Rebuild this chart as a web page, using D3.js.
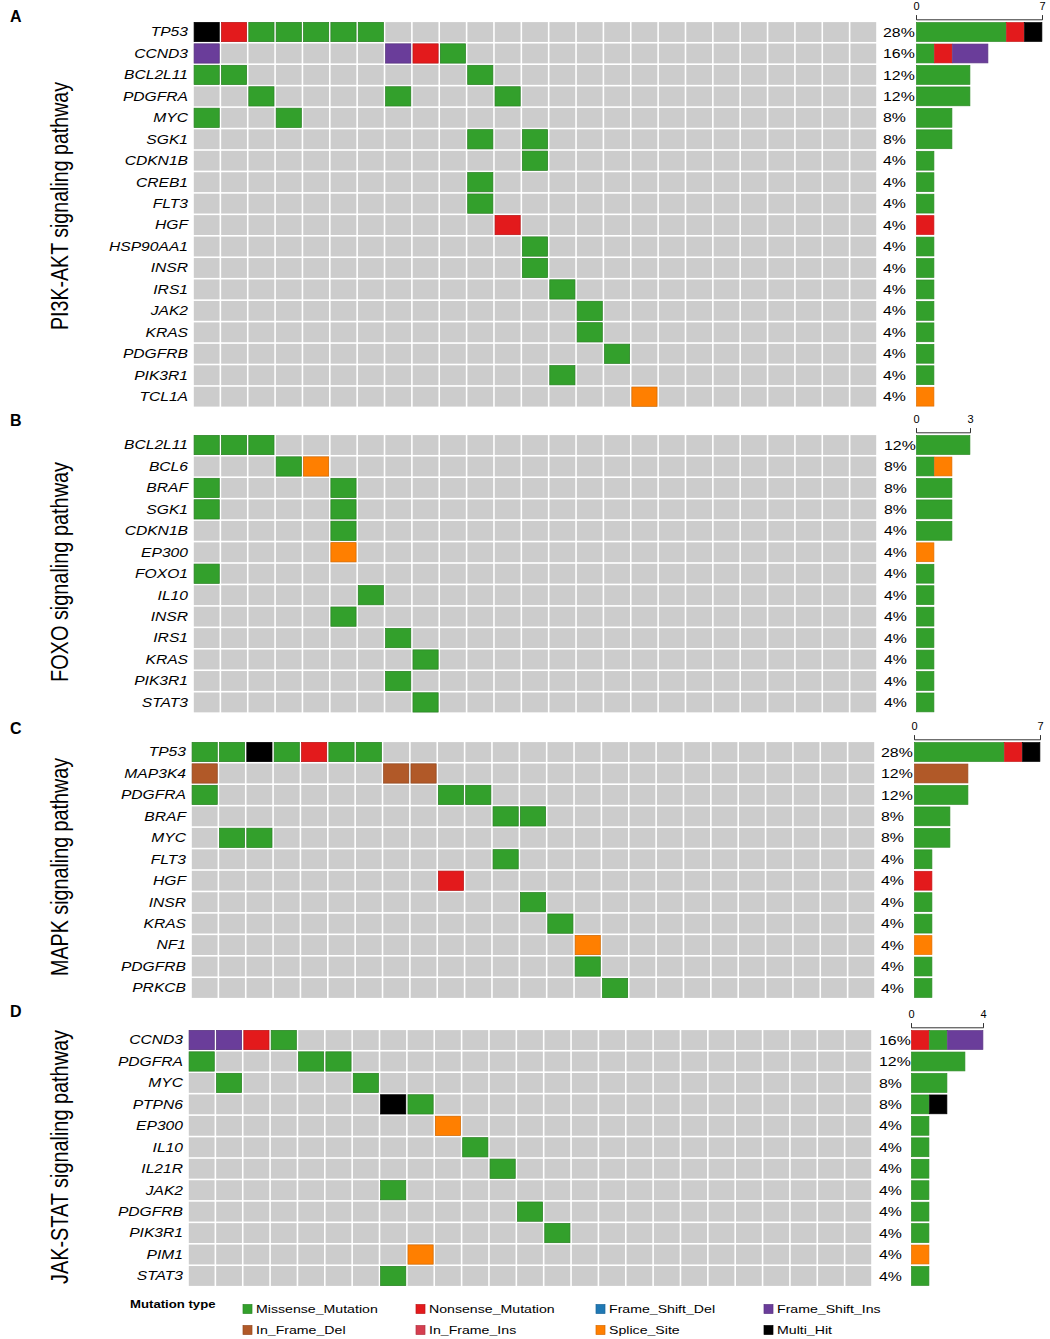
<!DOCTYPE html>
<html>
<head>
<meta charset="utf-8">
<script src="https://cdn.jsdelivr.net/npm/d3@7"></script>
<style>
body{margin:0;background:#fff;}
text{font-family:"Liberation Sans", Arial, sans-serif;fill:#000;}
</style>
</head>
<body>
<svg id="chart" width="1050" height="1339"></svg>
<script>
// mutation classes (short code -> legend name, colour)
var mutTypes = ["MIS","NON","FSD","FSI","IFD","IFI","SPL","MUL"]
var mutNames = ["Missense_Mutation","Nonsense_Mutation","Frame_Shift_Del","Frame_Shift_Ins",
                "In_Frame_Del","In_Frame_Ins","Splice_Site","Multi_Hit"]
var mutColors = ["#33A02C","#E31A1C","#1F78B4","#6A3D9A","#B15928","#D53E4F","#FF7F00","#000000"]
var nSamples = 25

// panel A : PI3K-AKT
var genesA = ["TP53","CCND3","BCL2L11","PDGFRA","MYC","SGK1","CDKN1B","CREB1","FLT3","HGF",
              "HSP90AA1","INSR","IRS1","JAK2","KRAS","PDGFRB","PIK3R1","TCL1A"]
var pctA = [28,16,12,12,8,8,4,4,4,4,4,4,4,4,4,4,4,4]
var mutsA = [
  ["TP53",0,"MUL"],["TP53",1,"NON"],["TP53",2,"MIS"],["TP53",3,"MIS"],["TP53",4,"MIS"],["TP53",5,"MIS"],["TP53",6,"MIS"],
  ["CCND3",0,"FSI"],["CCND3",7,"FSI"],["CCND3",8,"NON"],["CCND3",9,"MIS"],
  ["BCL2L11",0,"MIS"],["BCL2L11",1,"MIS"],["BCL2L11",10,"MIS"],
  ["PDGFRA",2,"MIS"],["PDGFRA",7,"MIS"],["PDGFRA",11,"MIS"],
  ["MYC",0,"MIS"],["MYC",3,"MIS"],
  ["SGK1",10,"MIS"],["SGK1",12,"MIS"],
  ["CDKN1B",12,"MIS"],["CREB1",10,"MIS"],["FLT3",10,"MIS"],["HGF",11,"NON"],
  ["HSP90AA1",12,"MIS"],["INSR",12,"MIS"],["IRS1",13,"MIS"],["JAK2",14,"MIS"],
  ["KRAS",14,"MIS"],["PDGFRB",15,"MIS"],["PIK3R1",13,"MIS"],["TCL1A",16,"SPL"]
]
var barsA = [
  [["MIS",5],["NON",1],["MUL",1]], [["MIS",1],["NON",1],["FSI",2]], [["MIS",3]], [["MIS",3]],
  [["MIS",2]], [["MIS",2]], [["MIS",1]], [["MIS",1]], [["MIS",1]], [["NON",1]], [["MIS",1]],
  [["MIS",1]], [["MIS",1]], [["MIS",1]], [["MIS",1]], [["MIS",1]], [["MIS",1]], [["SPL",1]]
]

// panel B : FOXO
var genesB = ["BCL2L11","BCL6","BRAF","SGK1","CDKN1B","EP300","FOXO1","IL10","INSR","IRS1","KRAS","PIK3R1","STAT3"]
var pctB = [12,8,8,8,4,4,4,4,4,4,4,4,4]
var mutsB = [
  ["BCL2L11",0,"MIS"],["BCL2L11",1,"MIS"],["BCL2L11",2,"MIS"],
  ["BCL6",3,"MIS"],["BCL6",4,"SPL"],
  ["BRAF",0,"MIS"],["BRAF",5,"MIS"],["SGK1",0,"MIS"],["SGK1",5,"MIS"],
  ["CDKN1B",5,"MIS"],["EP300",5,"SPL"],["FOXO1",0,"MIS"],["IL10",6,"MIS"],["INSR",5,"MIS"],
  ["IRS1",7,"MIS"],["KRAS",8,"MIS"],["PIK3R1",7,"MIS"],["STAT3",8,"MIS"]
]
var barsB = [
  [["MIS",3]], [["MIS",1],["SPL",1]], [["MIS",2]], [["MIS",2]], [["MIS",2]], [["SPL",1]],
  [["MIS",1]], [["MIS",1]], [["MIS",1]], [["MIS",1]], [["MIS",1]], [["MIS",1]], [["MIS",1]]
]

// panel C : MAPK
var genesC = ["TP53","MAP3K4","PDGFRA","BRAF","MYC","FLT3","HGF","INSR","KRAS","NF1","PDGFRB","PRKCB"]
var pctC = [28,12,12,8,8,4,4,4,4,4,4,4]
var mutsC = [
  ["TP53",0,"MIS"],["TP53",1,"MIS"],["TP53",2,"MUL"],["TP53",3,"MIS"],["TP53",4,"NON"],["TP53",5,"MIS"],["TP53",6,"MIS"],
  ["MAP3K4",0,"IFD"],["MAP3K4",7,"IFD"],["MAP3K4",8,"IFD"],
  ["PDGFRA",0,"MIS"],["PDGFRA",9,"MIS"],["PDGFRA",10,"MIS"],
  ["BRAF",11,"MIS"],["BRAF",12,"MIS"],["MYC",1,"MIS"],["MYC",2,"MIS"],
  ["FLT3",11,"MIS"],["HGF",9,"NON"],["INSR",12,"MIS"],["KRAS",13,"MIS"],
  ["NF1",14,"SPL"],["PDGFRB",14,"MIS"],["PRKCB",15,"MIS"]
]
var barsC = [
  [["MIS",5],["NON",1],["MUL",1]], [["IFD",3]], [["MIS",3]], [["MIS",2]], [["MIS",2]], [["MIS",1]],
  [["NON",1]], [["MIS",1]], [["MIS",1]], [["SPL",1]], [["MIS",1]], [["MIS",1]]
]

// panel D : JAK-STAT
var genesD = ["CCND3","PDGFRA","MYC","PTPN6","EP300","IL10","IL21R","JAK2","PDGFRB","PIK3R1","PIM1","STAT3"]
var pctD = [16,12,8,8,4,4,4,4,4,4,4,4]
var mutsD = [
  ["CCND3",0,"FSI"],["CCND3",1,"FSI"],["CCND3",2,"NON"],["CCND3",3,"MIS"],
  ["PDGFRA",0,"MIS"],["PDGFRA",4,"MIS"],["PDGFRA",5,"MIS"],
  ["MYC",1,"MIS"],["MYC",6,"MIS"],["PTPN6",7,"MUL"],["PTPN6",8,"MIS"],
  ["EP300",9,"SPL"],["IL10",10,"MIS"],["IL21R",11,"MIS"],["JAK2",7,"MIS"],
  ["PDGFRB",12,"MIS"],["PIK3R1",13,"MIS"],["PIM1",8,"SPL"],["STAT3",7,"MIS"]
]
var barsD = [
  [["NON",1],["MIS",1],["FSI",2]], [["MIS",3]], [["MIS",2]], [["MIS",1],["MUL",1]],
  [["MIS",1]], [["MIS",1]], [["MIS",1]], [["MIS",1]], [["MIS",1]], [["MIS",1]], [["SPL",1]], [["MIS",1]]
]

var letters = ["A","B","C","D"]
var titles = ["PI3K-AKT signaling pathway","FOXO signaling pathway","MAPK signaling pathway","JAK-STAT signaling pathway"]
var axisMax = [7,3,7,4]

var color = d3.scaleOrdinal().domain(mutTypes).range(mutColors)
var svg = d3.select("#chart")
svg.append("rect").attr("width",1050).attr("height",1339).attr("fill","#fff")

var rowH = 21.45, colW = 27.36, unit = 18, sx = 1.24

function panel(p){
  var g = svg.append("g")
  var x = d3.scaleBand().domain(d3.range(nSamples)).range([p.x0, p.x0 + colW*nSamples])
  var y = d3.scaleBand().domain(p.genes).range([p.top, p.top + rowH*p.genes.length])
  var bx = d3.scaleLinear().domain([0, p.max]).range([p.bx0, p.bx0 + unit*p.max])

  // grey background cells
  p.genes.forEach(function(gn){
    g.selectAll(null).data(d3.range(nSamples)).enter().append("rect")
     .attr("x", function(d){ return x(d) + 0.8 })
     .attr("y", y(gn) + 0.8)
     .attr("width", x.bandwidth() - 1.6)
     .attr("height", y.bandwidth() - 1.6)
     .attr("fill", "#cccccc")
  })

  // mutated cells
  g.selectAll(null).data(p.muts).enter().append("rect")
   .attr("x", function(d){ return x(d[1]) + 1.1 })
   .attr("y", function(d){ return y(d[0]) + 1.1 })
   .attr("width", x.bandwidth() - 2.2)
   .attr("height", y.bandwidth() - 2.2)
   .attr("fill", function(d){ return color(d[2]) })
   .attr("stroke", function(d){ return d3.color(color(d[2])).darker(0.5) })
   .attr("stroke-width", 0.7)

  // gene names
  g.selectAll(null).data(p.genes).enter().append("text")
   .attr("transform", function(d){ return "translate(" + (p.x0 - 5) + "," + (y(d) + y.bandwidth()/2 + 4.4) + ") scale(" + sx + ",1)" })
   .attr("text-anchor", "end")
   .attr("font-style", "italic")
   .attr("font-size", 12.6)
   .text(function(d){ return d })

  // percentages
  g.selectAll(null).data(p.pct).enter().append("text")
   .attr("transform", function(d, i){ return "translate(" + p.px + "," + (y(p.genes[i]) + y.bandwidth()/2 + 4.6) + ") scale(" + sx + ",1)" })
   .attr("font-size", 12.8)
   .text(function(d){ return d + "%" })

  // stacked bars
  p.bars.forEach(function(segs, i){
    var acc = 0
    segs.forEach(function(s){
      g.append("rect")
       .attr("x", bx(acc) + 0.5)
       .attr("y", y(p.genes[i]) + 1.3)
       .attr("width", bx(acc + s[1]) - bx(acc) - 0.6)
       .attr("height", y.bandwidth() - 2.6)
       .attr("fill", color(s[0]))
       .attr("stroke", d3.color(color(s[0])).darker(0.4))
       .attr("stroke-width", 0.7)
      acc += s[1]
    })
  })

  // bar axis
  var ax = g.append("g")
   .attr("transform", "translate(0," + (p.top - 2) + ")")
   .call(d3.axisTop(bx).tickValues([0, p.max]).tickFormat(d3.format("d")).tickSize(4).tickPadding(5))
  ax.selectAll("path,line").attr("stroke", "#333").attr("stroke-width", 1)
  ax.selectAll("text").attr("font-size", 11).attr("font-family", "Liberation Sans, Arial, sans-serif").attr("fill", "#000")

  // panel letter
  svg.append("text").attr("x", 10).attr("y", p.ly)
   .attr("font-weight", "bold").attr("font-size", 16).text(p.letter)

  // pathway title
  svg.append("text")
   .attr("transform", "translate(68," + p.tc + ") rotate(-90)")
   .attr("text-anchor", "middle")
   .attr("font-size", 23)
   .attr("textLength", p.tl)
   .attr("lengthAdjust", "spacingAndGlyphs")
   .text(p.title)
}

var layout = [
  {x0:193, top:21.3,   bx0:916, px:883, ly:22,   tc:206,  tl:248},
  {x0:193, top:434.3,  bx0:916, px:884, ly:426,  tc:572,  tl:220},
  {x0:191, top:741.3,  bx0:914, px:881, ly:734,  tc:867,  tl:218},
  {x0:188, top:1029.3, bx0:911, px:879, ly:1017, tc:1157, tl:254}
]
var genesAll = [genesA, genesB, genesC, genesD]
var pctAll = [pctA, pctB, pctC, pctD]
var mutsAll = [mutsA, mutsB, mutsC, mutsD]
var barsAll = [barsA, barsB, barsC, barsD]

layout.forEach(function(l, i){
  l.genes = genesAll[i]; l.pct = pctAll[i]; l.muts = mutsAll[i]; l.bars = barsAll[i]
  l.max = axisMax[i]; l.letter = letters[i]; l.title = titles[i]
  panel(l)
})

// legend
var leg = svg.append("g")
leg.append("text").attr("transform", "translate(130,1308) scale(1.22,1)")
   .attr("font-weight", "bold").attr("font-size", 10.8).text("Mutation type")
var legX = [243, 416, 596, 764], legY = [1309, 1330]
var items = leg.selectAll("g.item").data(mutTypes).enter().append("g")
   .attr("transform", function(d, i){ return "translate(" + legX[i % 4] + "," + legY[Math.floor(i / 4)] + ")" })
items.append("rect").attr("x", 0).attr("y", -4.5).attr("width", 9).attr("height", 9)
   .attr("fill", function(d){ return color(d) })
   .attr("stroke", function(d){ return d3.color(color(d)).darker(0.5) }).attr("stroke-width", 0.7)
items.append("text").attr("transform", "translate(13,4.3) scale(1.22,1)")
   .attr("font-size", 11.6)
   .text(function(d, i){ return mutNames[i] })
</script>
</body>
</html>
